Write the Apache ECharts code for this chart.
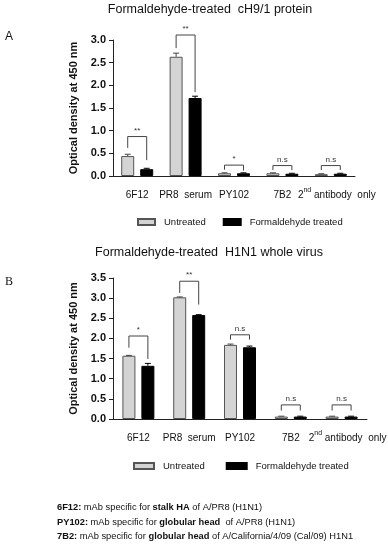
<!DOCTYPE html>
<html><head><meta charset="utf-8">
<script src="https://cdn.jsdelivr.net/npm/echarts@6.0.0/dist/echarts.min.js"></script>
<style>html,body{margin:0;padding:0;background:#fff}#c{width:388px;height:550px}</style>
</head><body><div id="c"></div><script>
// ---- data ----
const categories = ['6F12', 'PR8  serum', 'PY102', '7B2', '2nd antibody  only'];
const seriesNames = ['Untreated', 'Formaldehyde treated'];

const untreatedA = [0.44, 2.63, 0.06, 0.06, 0.04];
const treatedA = [0.15, 1.72, 0.06, 0.05, 0.05];
const untreatedErrA = [0.04, 0.08, 0.01, 0.01, 0.01];
const treatedErrA = [0.02, 0.04, 0.01, 0.01, 0.01];
const sigA = ['**', '**', '*', 'n.s', 'n.s'];
// bracket: [top, left leg end, right leg end]
const bracketA = [[0.87, 0.62, 0.35], [3.11, 2.82, 1.85], [0.24, 0.14, 0.12], [0.23, 0.13, 0.13], [0.23, 0.13, 0.13]];
const yMaxA = 3.0;

const untreatedB = [1.57, 3.02, 1.84, 0.06, 0.06];
const treatedB = [1.32, 2.58, 1.78, 0.06, 0.06];
const untreatedErrB = [0.01, 0.01, 0.02, 0.01, 0.01];
const treatedErrB = [0.06, 0.01, 0.03, 0.01, 0.01];
const sigB = ['*', '**', 'n.s', 'n.s', 'n.s'];
const bracketB = [[2.06, 1.77, 1.49], [3.42, 3.13, 2.84], [2.09, 1.97, 1.97], [0.35, 0.21, 0.21], [0.35, 0.21, 0.21]];
const yMaxB = 3.5;
const yInterval = 0.5;

const titleA = 'Formaldehyde-treated  cH9/1 protein';
const titleB = 'Formaldehyde-treated  H1N1 whole virus';
const yName = 'Optical density at 450 nm';
const footnotes = [
  '{b|6F12:} mAb specific for {b|stalk HA} of A/PR8 (H1N1)',
  '{b|PY102:} mAb specific for {b|globular head}  of A/PR8 (H1N1)',
  '{b|7B2:} mAb specific for {b|globular head} of A/California/4/09 (Cal/09) H1N1'
];

// ---- styling ----
const FONT = '"Liberation Sans", Arial, sans-serif';
const BAR_W = 13, BAR_GAP = 0.46;
const OFF = (BAR_W + BAR_W * BAR_GAP) / 2;
const GRAY = '#d4d4d4';

const chart = echarts.init(document.getElementById('c'));

function xAxisCfg(gi) {
  return {
    type: 'category', gridIndex: gi, data: categories,
    axisLine: {lineStyle: {color: '#222', width: 1}},
    axisTick: {alignWithLabel: true, length: 4, lineStyle: {color: '#222'}},
    axisLabel: {
      interval: 0, margin: 11, color: '#111', fontFamily: FONT, fontSize: 10,
      formatter: function (v) { return v.indexOf('2nd') === 0 ? '{p|}{n|2}{s|nd}{n|' + v.slice(3) + '}' : '{n|' + v + '}'; },
      rich: {
        p: {width: 12, fontSize: 10, lineHeight: 13},
        n: {fontSize: 10, fontFamily: FONT, color: '#111', lineHeight: 13, verticalAlign: 'bottom'},
        s: {fontSize: 7, fontFamily: FONT, color: '#111', lineHeight: 7, verticalAlign: 'top'}
      }
    },
    splitLine: {show: false}
  };
}
function yAxisCfg(gi, max) {
  return {
    type: 'value', gridIndex: gi, min: 0, max: max, interval: yInterval,
    name: yName, nameLocation: 'middle', nameGap: 33,
    nameTextStyle: {fontFamily: FONT, fontSize: 11, fontWeight: 'bold', color: '#111'},
    axisLine: {show: true, lineStyle: {color: '#222'}},
    axisTick: {show: true, length: 4, lineStyle: {color: '#222'}},
    axisLabel: {margin: 7, fontFamily: FONT, fontSize: 11, fontWeight: 'bold', color: '#111',
      formatter: function (v) { return v.toFixed(1); }},
    splitLine: {show: false}
  };
}
function barSeries(gi, name, data) {
  const untreated = name === seriesNames[0];
  return {
    type: 'bar', name: name, xAxisIndex: gi, yAxisIndex: gi, data: data,
    barWidth: BAR_W, barGap: (BAR_GAP * 100) + '%',
    itemStyle: untreated ? {color: GRAY, borderColor: '#555', borderWidth: 1} : {color: '#000', borderColor: '#000', borderWidth: 1},
    emphasis: {disabled: true}, silent: true
  };
}
function errSeries(gi, vals, errs, sign, color) {
  return {
    type: 'custom', xAxisIndex: gi, yAxisIndex: gi, silent: true, z: 5,
    data: vals.map(function (v, i) { return [i, v, errs[i]]; }),
    renderItem: function (params, api) {
      const i = api.value(0), v = api.value(1), e = api.value(2);
      const p0 = api.coord([i, v]), p1 = api.coord([i, v + e]);
      const x = p0[0] + sign * OFF;
      return {type: 'group', children: [
        {type: 'line', shape: {x1: x, y1: p0[1], x2: x, y2: p1[1]}, style: {stroke: color, lineWidth: 1}},
        {type: 'line', shape: {x1: x - 3, y1: p1[1], x2: x + 3, y2: p1[1]}, style: {stroke: color, lineWidth: 1}}
      ]};
    }
  };
}
function bracketSeries(gi, br, sig) {
  return {
    type: 'custom', xAxisIndex: gi, yAxisIndex: gi, silent: true, z: 6, clip: false,
    data: br.map(function (b, i) { return [i, b[0], b[1], b[2]]; }),
    renderItem: function (params, api) {
      const i = api.value(0);
      const c = api.coord([i, api.value(1)]);
      const yl = api.coord([i, api.value(2)])[1], yr = api.coord([i, api.value(3)])[1];
      const xl = c[0] - OFF, xr = c[0] + OFF;
      return {type: 'group', children: [
        {type: 'polyline', shape: {points: [[xl, yl], [xl, c[1]], [xr, c[1]], [xr, yr]]},
          style: {stroke: '#444', fill: null, lineWidth: 1}},
        {type: 'text', x: (xl + xr) / 2, y: c[1] - 2,
          style: {text: sig[params.dataIndex], align: 'center', verticalAlign: 'bottom',
            fontSize: 8, fontFamily: FONT, fill: '#333'}}
      ]};
    }
  };
}
function legendCfg(left, top, iw, gap) {
  return {
    left: left, top: top, padding: 0, orient: 'horizontal', icon: 'rect', itemWidth: iw, itemHeight: 6, itemGap: gap,
    data: seriesNames, selectedMode: false,
    textStyle: {fontFamily: FONT, fontSize: 9.5, color: '#111', padding: [0, 0, 0, 4]}
  };
}

const option = {
  animation: false,
  backgroundColor: '#fff',
  title: [
    {text: titleA, left: 210, top: 3, padding: 0, textAlign: 'center', textStyle: {fontFamily: FONT, fontSize: 12.5, fontWeight: 'normal', color: '#111'}},
    {text: titleB, left: 209, top: 246, padding: 0, textAlign: 'center', textStyle: {fontFamily: FONT, fontSize: 12.5, fontWeight: 'normal', color: '#111'}}
  ],
  legend: [legendCfg(137, 217, 17, 17), legendCfg(133, 461, 20, 21)],
  grid: [
    {left: 113, right: 33, top: 40, height: 136, outerBoundsMode: 'none'},
    {left: 113, right: 21, top: 278, height: 141, outerBoundsMode: 'none'}
  ],
  xAxis: [xAxisCfg(0), xAxisCfg(1)],
  yAxis: [yAxisCfg(0, yMaxA), yAxisCfg(1, yMaxB)],
  series: [
    barSeries(0, seriesNames[0], untreatedA),
    barSeries(0, seriesNames[1], treatedA),
    errSeries(0, untreatedA, untreatedErrA, -1, '#444'),
    errSeries(0, treatedA, treatedErrA, 1, '#000'),
    bracketSeries(0, bracketA, sigA),
    barSeries(1, seriesNames[0], untreatedB),
    barSeries(1, seriesNames[1], treatedB),
    errSeries(1, untreatedB, untreatedErrB, -1, '#444'),
    errSeries(1, treatedB, treatedErrB, 1, '#000'),
    bracketSeries(1, bracketB, sigB)
  ],
  graphic: [
    {type: 'text', left: 5, top: 31, style: {text: 'A', fontFamily: FONT, fontSize: 12, fill: '#111'}},
    {type: 'text', left: 5, top: 276, style: {text: 'B', fontFamily: '"Liberation Serif", serif', fontSize: 12, fill: '#111'}},
    {type: 'group', left: 57, top: 503, children: footnotes.map(function (t, k) {
      return {type: 'text', x: 0, y: k * 14.5, style: {text: t, fontFamily: FONT, fontSize: 9.3, fill: '#111',
        rich: {b: {fontFamily: FONT, fontSize: 9.3, fontWeight: 'bold', fill: '#111'}}}};
    })}
  ]
};
chart.setOption(option);
</script></body></html>
